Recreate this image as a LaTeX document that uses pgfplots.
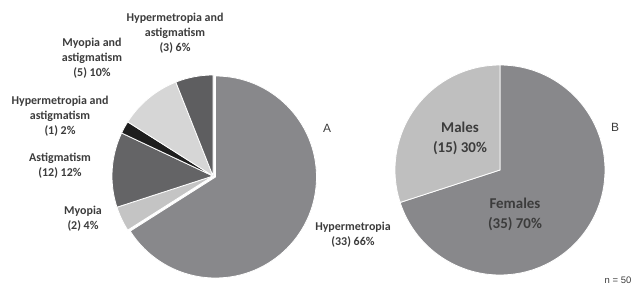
\documentclass[border=0pt]{standalone}
\usepackage{pgfplots}
\pgfplotsset{compat=1.18}
\usepackage{fontspec}
\setmainfont{Carlito}
\newfontfamily\arial{Liberation Sans}
\definecolor{txt}{HTML}{3C3C3C}
\definecolor{cHyp}{HTML}{88888B}
\definecolor{cMyo}{HTML}{C4C4C4}
\definecolor{cAst}{HTML}{646466}
\definecolor{cHA1}{HTML}{1E1E1E}
\definecolor{cMA}{HTML}{D6D6D6}
\definecolor{cHA3}{HTML}{5E5E60}
\definecolor{cFem}{HTML}{88888B}
\definecolor{cMal}{HTML}{BFBFBF}
% slice: cx, cy, radius, cumulative percent before, percent, colour
\newcommand\slice[6]{%
  \fill[fill=#6,draw=white,line width=0.8bp] (axis cs:#1,#2) -- ++({90-3.6*(#4)}:#3bp)
    arc[start angle={90-3.6*(#4)}, end angle={90-3.6*(#4+#5)}, radius=#3bp] -- cycle;}
\tikzset{lab/.style={text=txt,align=center,inner sep=0pt,font=\bfseries\fontsize{12}{15}\selectfont},
  labB/.style={text=txt,align=center,inner sep=0pt,font=\bfseries\fontsize{15}{20}\selectfont}}
\begin{document}
\begin{tikzpicture}
\begin{axis}[x=1bp,y=1bp,xmin=0,xmax=638,ymin=0,ymax=286,hide axis,clip=false]
% Panel A: diagnosis (n = 50)
\slice{215.5}{109}{101}{0}{66}{cHyp}
\slice{213}{110}{101}{66}{4}{cMyo}
\slice{213}{110}{101}{70}{12}{cAst}
\slice{213}{110}{101}{82}{2}{cHA1}
\slice{213}{110}{101}{84}{10}{cMA}
\slice{213}{110}{101}{94}{6}{cHA3}
% Panel B: sex
\slice{500}{116}{105}{0}{70}{cFem}
\slice{500}{116}{105}{70}{30}{cMal}
\node[lab] at (axis cs:175,253) {Hypermetropia and\\astigmatism\\(3) 6\%};
\node[lab] at (axis cs:92,228) {Myopia and\\astigmatism\\(5) 10\%};
\node[lab] at (axis cs:60,170) {Hypermetropia and\\astigmatism\\(1) 2\%};
\node[lab] at (axis cs:60,120.5) {Astigmatism\\(12) 12\%};
\node[lab] at (axis cs:83,67) {Myopia\\(2) 4\%};
\node[lab] at (axis cs:353,51.5) {Hypermetropia\\(33) 66\%};
\node[labB] at (axis cs:460,148) {Males\\(15) 30\%};
\node[labB] at (axis cs:515,72) {Females\\(35) 70\%};
\node[text=txt,font=\arial\fontsize{12}{14}\selectfont] at (axis cs:327,158) {A};
\node[text=txt,font=\arial\fontsize{12}{14}\selectfont] at (axis cs:615,159) {B};
\node[text=txt,font=\arial\fontsize{9.5}{11}\selectfont] at (axis cs:618,6) {n = 50};
\end{axis}
\pgfresetboundingbox
\path (0,0) rectangle (638bp,286bp);
\end{tikzpicture}
\end{document}
